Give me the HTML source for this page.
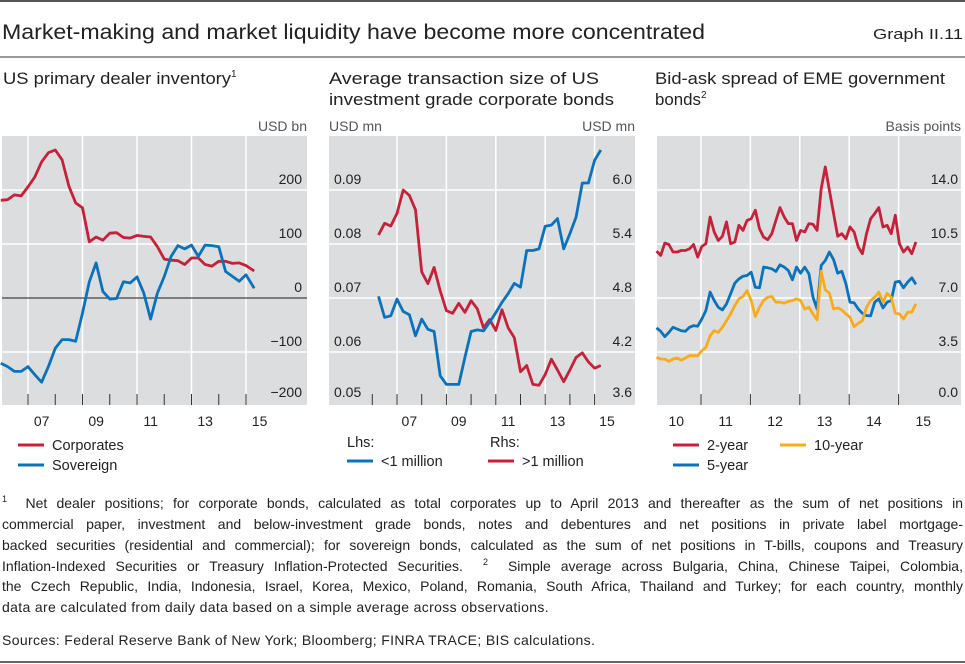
<!DOCTYPE html>
<html><head><meta charset="utf-8">
<style>
html,body{margin:0;padding:0;background:#fff;}
body{width:965px;height:664px;position:relative;overflow:hidden;font-family:"Liberation Sans",sans-serif;}
svg text{font-family:"Liberation Sans",sans-serif;}
.fn{position:absolute;left:2px;width:961px;font-size:14px;color:#222;line-height:21px;height:21px;text-align:justify;text-align-last:justify;white-space:nowrap;}
.sp{position:relative;top:-6px;font-size:9px;line-height:0;}
</style></head><body>
<svg id="chart" width="965" height="664" style="position:absolute;left:0;top:0">
  <line x1="0" y1="1" x2="965" y2="1" stroke="#555" stroke-width="2"/>
  <text x="2" y="39" font-size="21" fill="#222" textLength="703" lengthAdjust="spacingAndGlyphs">Market-making and market liquidity have become more concentrated</text>
  <text x="963" y="39" font-size="15" fill="#222" text-anchor="end" textLength="90" lengthAdjust="spacingAndGlyphs">Graph II.11</text>
  <line x1="0" y1="57" x2="965" y2="57" stroke="#333" stroke-width="1"/>
  <text x="3" y="84" font-size="16.5" fill="#222"><tspan textLength="228" lengthAdjust="spacingAndGlyphs">US primary dealer inventory</tspan><tspan font-size="10" dy="-7">1</tspan></text>
  <text x="329" y="84" font-size="16.5" fill="#222" textLength="270" lengthAdjust="spacingAndGlyphs">Average transaction size of US</text>
  <text x="329" y="105" font-size="16.5" fill="#222" textLength="285" lengthAdjust="spacingAndGlyphs">investment grade corporate bonds</text>
  <text x="655" y="84" font-size="16.5" fill="#222" textLength="290" lengthAdjust="spacingAndGlyphs">Bid-ask spread of EME government</text>
  <text x="655" y="105" font-size="16.5" fill="#222"><tspan textLength="46" lengthAdjust="spacingAndGlyphs">bonds</tspan><tspan font-size="10" dy="-7">2</tspan></text>
  <g id="p1"></g><g id="p2"></g><g id="p3"></g>
  <line x1="0" y1="662" x2="965" y2="662" stroke="#333" stroke-width="1.5"/>
</svg>
<div class="fn" style="top:493px"><span class="sp">1</span>&nbsp; Net dealer positions; for corporate bonds, calculated as total corporates up to April 2013 and thereafter as the sum of net positions in</div>
<div class="fn" style="top:514px">commercial paper, investment and below-investment grade bonds, notes and debentures and net positions in private label mortgage-</div>
<div class="fn" style="top:535px">backed securities (residential and commercial); for sovereign bonds, calculated as the sum of net positions in T-bills, coupons and Treasury</div>
<div class="fn" style="top:556px">Inflation-Indexed Securities or Treasury Inflation-Protected Securities. &nbsp;<span class="sp">2</span>&nbsp; Simple average across Bulgaria, China, Chinese Taipei, Colombia,</div>
<div class="fn" style="top:576px">the Czech Republic, India, Indonesia, Israel, Korea, Mexico, Poland, Romania, South Africa, Thailand and Turkey; for each country, monthly</div>
<div class="fn" style="top:597px;text-align-last:left;letter-spacing:0.35px">data are calculated from daily data based on a simple average across observations.</div>
<div class="fn" style="top:630px;text-align-last:left;letter-spacing:0.35px">Sources: Federal Reserve Bank of New York; Bloomberg; FINRA TRACE; BIS calculations.</div>
<script>
// ---- Panel 1 data (quarterly, USD bn) ----
const p1Years = [2006.0,2006.25,2006.5,2006.75,2007.0,2007.25,2007.5,2007.75,2008.0,2008.25,2008.5,2008.75,2009.0,2009.25,2009.5,2009.75,2010.0,2010.25,2010.5,2010.75,2011.0,2011.25,2011.5,2011.75,2012.0,2012.25,2012.5,2012.75,2013.0,2013.25,2013.5,2013.75,2014.0,2014.25,2014.5,2014.75,2015.0,2015.3];
const p1Corporates = [181,182,191,189,206,224,252,269,274,256,207,176,167,104,113,107,120,121,112,111,116,114,113,95,72,70,69,62,74,74,62,59,68,68,64,65,60,50];
const p1Sovereign = [-121,-127,-136,-136,-127,-142,-156,-127,-93,-77,-77,-80,-28,30,65,12,-2,-1,30,28,39,9,-39,9,40,77,97,91,98,77,98,97,95,49,40,31,43,18];
const p1Ticks = [-200,-100,0,100,200];
const p1TickLabels = ["\u2212200","\u2212100","0","100","200"];
const p1XLabels = ["07","09","11","13","15"];
const p1XLabelYears = [2007,2009,2011,2013,2015];

// ---- Panel 2 data (quarterly) ----
const p2Years = [2006.25,2006.5,2006.75,2007.0,2007.25,2007.5,2007.75,2008.0,2008.25,2008.5,2008.75,2009.0,2009.25,2009.5,2009.75,2010.0,2010.25,2010.5,2010.75,2011.0,2011.25,2011.5,2011.75,2012.0,2012.25,2012.5,2012.75,2013.0,2013.25,2013.5,2013.75,2014.0,2014.25,2014.5,2014.75,2015.0,2015.25];
const p2Small = [0.0703,0.0664,0.0667,0.0698,0.0675,0.0669,0.0630,0.0661,0.0642,0.0638,0.0556,0.0540,0.0540,0.0540,0.0590,0.0638,0.0641,0.0639,0.0655,0.0673,0.0692,0.0708,0.0727,0.0720,0.0788,0.0788,0.0791,0.0833,0.0835,0.0847,0.0791,0.0819,0.0850,0.0913,0.0913,0.0955,0.0974];
const p2Large = [5.50,5.63,5.60,5.74,6.00,5.94,5.78,5.09,4.96,5.14,4.88,4.66,4.63,4.74,4.64,4.77,4.68,4.47,4.56,4.44,4.67,4.47,4.36,3.98,4.05,3.84,3.83,3.95,4.12,4.00,3.87,4.00,4.14,4.19,4.09,4.02,4.05];
const p2LeftTicks = [0.05,0.06,0.07,0.08,0.09];
const p2LeftLabels = ["0.05","0.06","0.07","0.08","0.09"];
const p2RightTicks = [3.6,4.2,4.8,5.4,6.0];
const p2RightLabels = ["3.6","4.2","4.8","5.4","6.0"];
const p2XLabels = ["07","09","11","13","15"];
const p2XLabelYears = [2007,2009,2011,2013,2015];

// ---- Panel 3 data (monthly, basis points) ----
const p3StartYear = 2010.1;
const p3TwoYear = [10.04,9.76,10.56,10.47,9.98,9.98,10.08,10.08,10.19,10.47,9.65,10.34,10.52,12.25,11.28,10.73,11.0,11.93,10.52,10.63,11.71,11.38,12.03,12.14,12.69,11.49,10.95,10.78,11.17,12.03,12.86,12.25,11.82,11.82,10.73,11.38,11.28,11.82,11.78,11.38,14.09,15.5,13.99,12.47,11.0,11.17,10.84,11.6,11.28,10.3,9.87,11.17,12.14,12.47,12.86,11.6,11.71,11.17,12.36,10.52,9.98,10.3,9.87,10.63];
const p3FiveYear = [5.06,4.84,4.49,4.77,5.1,4.99,4.88,4.84,5.1,5.21,5.17,5.64,6.19,7.38,6.84,6.4,6.23,6.62,7.27,7.96,8.24,8.41,8.46,8.67,7.7,7.66,9.0,8.96,8.89,8.72,9.15,9.0,8.78,8.18,9.0,8.61,9.0,8.57,7.05,6.29,9.11,9.43,9.98,9.48,8.61,8.74,7.92,6.73,6.69,6.29,6.01,5.86,5.84,6.73,6.95,6.36,6.73,6.84,8.03,8.09,7.66,8.03,8.31,7.88];
const p3TenYear = [3.15,3.04,3.04,2.89,3.04,3.11,2.97,3.11,3.26,3.26,3.26,3.58,3.8,4.56,4.88,4.77,5.1,5.53,5.97,6.51,6.95,7.1,7.48,6.84,5.8,6.4,6.84,7.05,7.1,6.73,6.73,6.66,6.77,6.84,6.95,6.84,6.29,6.4,5.97,5.58,8.74,7.53,7.31,6.29,6.36,6.23,5.97,5.75,5.14,5.36,5.53,6.4,6.84,7.05,7.38,6.73,7.31,7.05,6.01,5.97,5.64,6.08,6.08,6.62];
const p3Ticks = [0,3.5,7,10.5,14];
const p3TickLabels = ["0.0","3.5","7.0","10.5","14.0"];
const p3XLabels = ["10","11","12","13","14","15"];
const p3XLabelYears = [2010,2011,2012,2013,2014,2015];

const NS = "http://www.w3.org/2000/svg";
const RED = "#c4213a", BLUE = "#0a72bb", YEL = "#f9ab1c", BG = "#dcdddf";
function el(parent, tag, attrs, text) {
  const e = document.createElementNS(NS, tag);
  for (const k in attrs) e.setAttribute(k, attrs[k]);
  if (text !== undefined) e.textContent = text;
  parent.appendChild(e);
  return e;
}
function lin(d0, d1, r0, r1) { return v => r0 + (v - d0) / (d1 - d0) * (r1 - r0); }
const TOP = 136, BOT = 405;

function frame(g, x0, x1, gridYs, gridXs, tickXs) {
  const r = el(g, 'rect', {x: x0, y: TOP, width: x1 - x0, height: BOT - TOP, fill: BG});
  
  
  gridYs.forEach(y => {
    const l = el(g, 'line', {x1: x0, x2: x1, y1: y, y2: y, stroke: '#fff', 'stroke-width': 1.5});
    
    
  });
  gridXs.forEach(x => {
    const l = el(g, 'line', {x1: x, x2: x, y1: TOP, y2: BOT, stroke: '#fff', 'stroke-width': 1.5});
    
    
  });
  tickXs.forEach(x => {
    const l = el(g, 'line', {x1: x, x2: x, y1: BOT - 11, y2: BOT, stroke: '#333', 'stroke-width': 1});
    
    
  });
}
function series(g, xs, ys, sx, sy, color, name) {
  const d = xs.map((x, i) => (i ? 'L' : 'M') + sx(x).toFixed(1) + ',' + sy(ys[i]).toFixed(1)).join('');
  const p = el(g, 'path', {d: d, fill: 'none', stroke: color, 'stroke-width': 2.8, 'stroke-linejoin': 'round'});
  
  
}
function txt(g, x, y, s, anchor, name, size, fill) {
  const t = el(g, 'text', {x: x, y: y, 'font-size': size || 14, fill: fill || '#222', 'text-anchor': anchor || 'start'}, s);
  
  
  return t;
}
function legend(g, x, y, color, label, name) {
  const l = el(g, 'line', {x1: x, x2: x + 26, y1: y, y2: y, stroke: color, 'stroke-width': 3});
  
  
  txt(g, x + 34, y + 5, label, 'start', name + '-label', 14.5);
}

// ---- Panel 1 ----
(function () {
  const g = document.getElementById('p1');
  const x0 = 2, x1 = 307;
  const sx = lin(2007, 2015, 28, 246);
  const sy = lin(-200, 300, 406, TOP);
  frame(g, x0, x1, [100, 200, -100].map(sy), [2007, 2009, 2011, 2013, 2015].map(sx),
    [2008, 2010, 2012, 2014].map(sx).concat([2007, 2009, 2011, 2013, 2015].map(sx)));
  const z = el(g, 'line', {x1: x0, x2: x1, y1: sy(0), y2: sy(0), stroke: '#444', 'stroke-width': 1.3});
  
  
  p1Ticks.forEach((v, i) => txt(g, 302, sy(v) - 6 + (v === -200 ? -3 : 0), p1TickLabels[i], 'end', 'y-tick-label'));
  p1XLabelYears.forEach((yr, i) => txt(g, sx(yr + 0.5), 426, p1XLabels[i], 'middle', 'x-tick-label'));
  txt(g, 307, 131, 'USD bn', 'end', 'y-axis-unit', 14, '#555');
  series(g, p1Years, p1Corporates, sx, sy, RED, 'corporates-line');
  series(g, p1Years, p1Sovereign, sx, sy, BLUE, 'sovereign-line');
  legend(g, 18, 445, RED, 'Corporates', 'legend-corporates');
  legend(g, 18, 465, BLUE, 'Sovereign', 'legend-sovereign');
})();

// ---- Panel 2 ----
(function () {
  const g = document.getElementById('p2');
  const x0 = 329, x1 = 635;
  const sx = lin(2007, 2015, 397, 594.6);
  const syL = lin(0.05, 0.10, 406, TOP);
  const syR = lin(3.6, 6.6, 406, TOP);
  frame(g, x0, x1, [0.06, 0.07, 0.08, 0.09].map(syL), [2007, 2009, 2011, 2013, 2015].map(sx),
    [2006, 2007, 2008, 2009, 2010, 2011, 2012, 2013, 2014, 2015].map(sx));
  p2LeftTicks.forEach((v, i) => txt(g, 334, syL(v) - 6 + (i === 0 ? -3 : 0), p2LeftLabels[i], 'start', 'left-y-tick-label'));
  p2RightTicks.forEach((v, i) => txt(g, 632, syR(v) - 6 + (i === 0 ? -3 : 0), p2RightLabels[i], 'end', 'right-y-tick-label'));
  p2XLabelYears.forEach((yr, i) => txt(g, sx(yr + 0.5), 426, p2XLabels[i], 'middle', 'x-tick-label'));
  txt(g, 329, 131, 'USD mn', 'start', 'left-axis-unit', 14, '#555');
  txt(g, 635, 131, 'USD mn', 'end', 'right-axis-unit', 14, '#555');
  series(g, p2Years, p2Large, sx, syR, RED, 'large-trades-line');
  series(g, p2Years, p2Small, sx, syL, BLUE, 'small-trades-line');
  txt(g, 347, 447, 'Lhs:', 'start', 'legend-lhs-heading', 14.5);
  legend(g, 347, 461, BLUE, '<1 million', 'legend-small-trades');
  txt(g, 490, 447, 'Rhs:', 'start', 'legend-rhs-heading', 14.5);
  legend(g, 488, 461, RED, '>1 million', 'legend-large-trades');
})();

// ---- Panel 3 ----
(function () {
  const g = document.getElementById('p3');
  const x0 = 657, x1 = 961;
  const sx = lin(2011, 2015, 701, 898.6);
  const sy = lin(0, 17.5, 406, TOP);
  frame(g, x0, x1, [3.5, 7, 10.5, 14].map(sy), [2011, 2012, 2013, 2014, 2015].map(sx),
    [2011, 2012, 2013, 2014, 2015].map(sx));
  p3Ticks.forEach((v, i) => txt(g, 958, sy(v) - 6 + (i === 0 ? -3 : 0), p3TickLabels[i], 'end', 'y-tick-label'));
  p3XLabelYears.forEach((yr, i) => txt(g, sx(yr + 0.5), 426, p3XLabels[i], 'middle', 'x-tick-label'));
  txt(g, 961, 131, 'Basis points', 'end', 'y-axis-unit', 14, '#555');
  const xs = p3TwoYear.map((v, i) => p3StartYear + i / 12);
  series(g, xs, p3TwoYear, sx, sy, RED, 'two-year-line');
  series(g, xs, p3FiveYear, sx, sy, BLUE, 'five-year-line');
  series(g, xs, p3TenYear, sx, sy, YEL, 'ten-year-line');
  legend(g, 673, 445, RED, '2-year', 'legend-two-year');
  legend(g, 780, 445, YEL, '10-year', 'legend-ten-year');
  legend(g, 673, 465, BLUE, '5-year', 'legend-five-year');
})();
</script>
</body></html>
